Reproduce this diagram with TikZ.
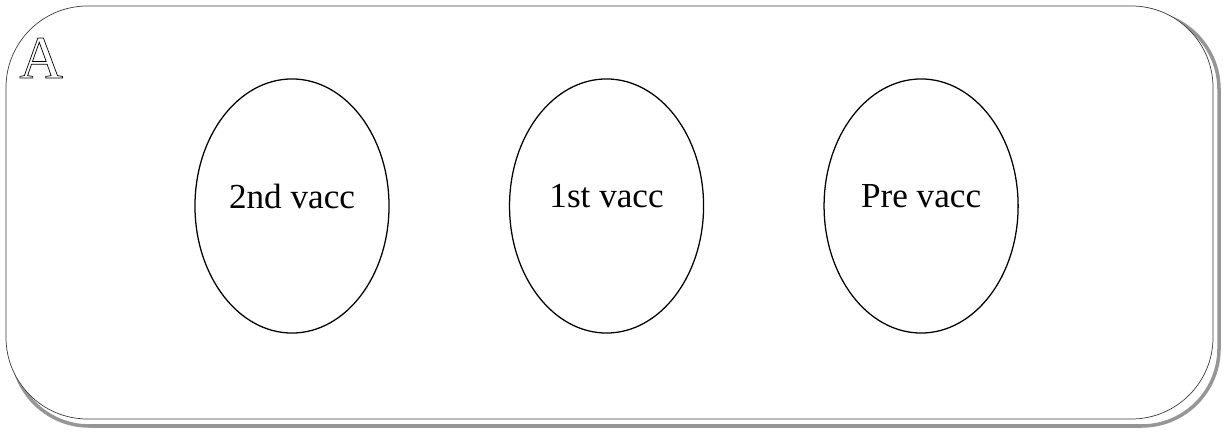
\documentclass[tikz,border=0pt]{standalone}
\usepackage{fontspec}
\setmainfont{Liberation Serif}
\usepackage{tikz}
\usetikzlibrary{shapes.geometric, positioning}
\definecolor{framegray}{RGB}{60, 60, 60}
\definecolor{shadowgray}{RGB}{150, 150, 150}
\newcommand{\hollowtext}[1]{\special{pdf:code q 1 Tr 0.5 w}#1\special{pdf:code Q}}

\tikzset{
    vacc/.style={ellipse, draw=black, line width=0.9pt, minimum width=4.85cm, minimum height=6.35cm,
        inner sep=0pt, text depth=14pt, font=\fontsize{25}{30}\selectfont}
}

\begin{document}
\begin{tikzpicture}[x=0.025cm, y=0.025cm]
    \useasboundingbox (0,0) rectangle (1227,434);

    % Frame with shadow
    \draw[shadowgray, line width=2.5pt, rounded corners=55] (12,8) rectangle (1219,422);
    \filldraw[fill=white, draw=framegray, line width=0.5pt, rounded corners=58] (6,15) rectangle (1213,428);

    % Panel letter
    \node[anchor=base west, inner sep=0pt, font=\fontsize{43}{48}\selectfont] (panel) at (19,356) {\hollowtext{A}};

    % Vaccination stages
    \node[vacc] (second) at (292,228) {2nd vacc};
    \node[vacc, right=2.98cm of second] (first) {1st vacc};
    \node[vacc, right=2.98cm of first] (pre) {Pre vacc};
\end{tikzpicture}
\end{document}
